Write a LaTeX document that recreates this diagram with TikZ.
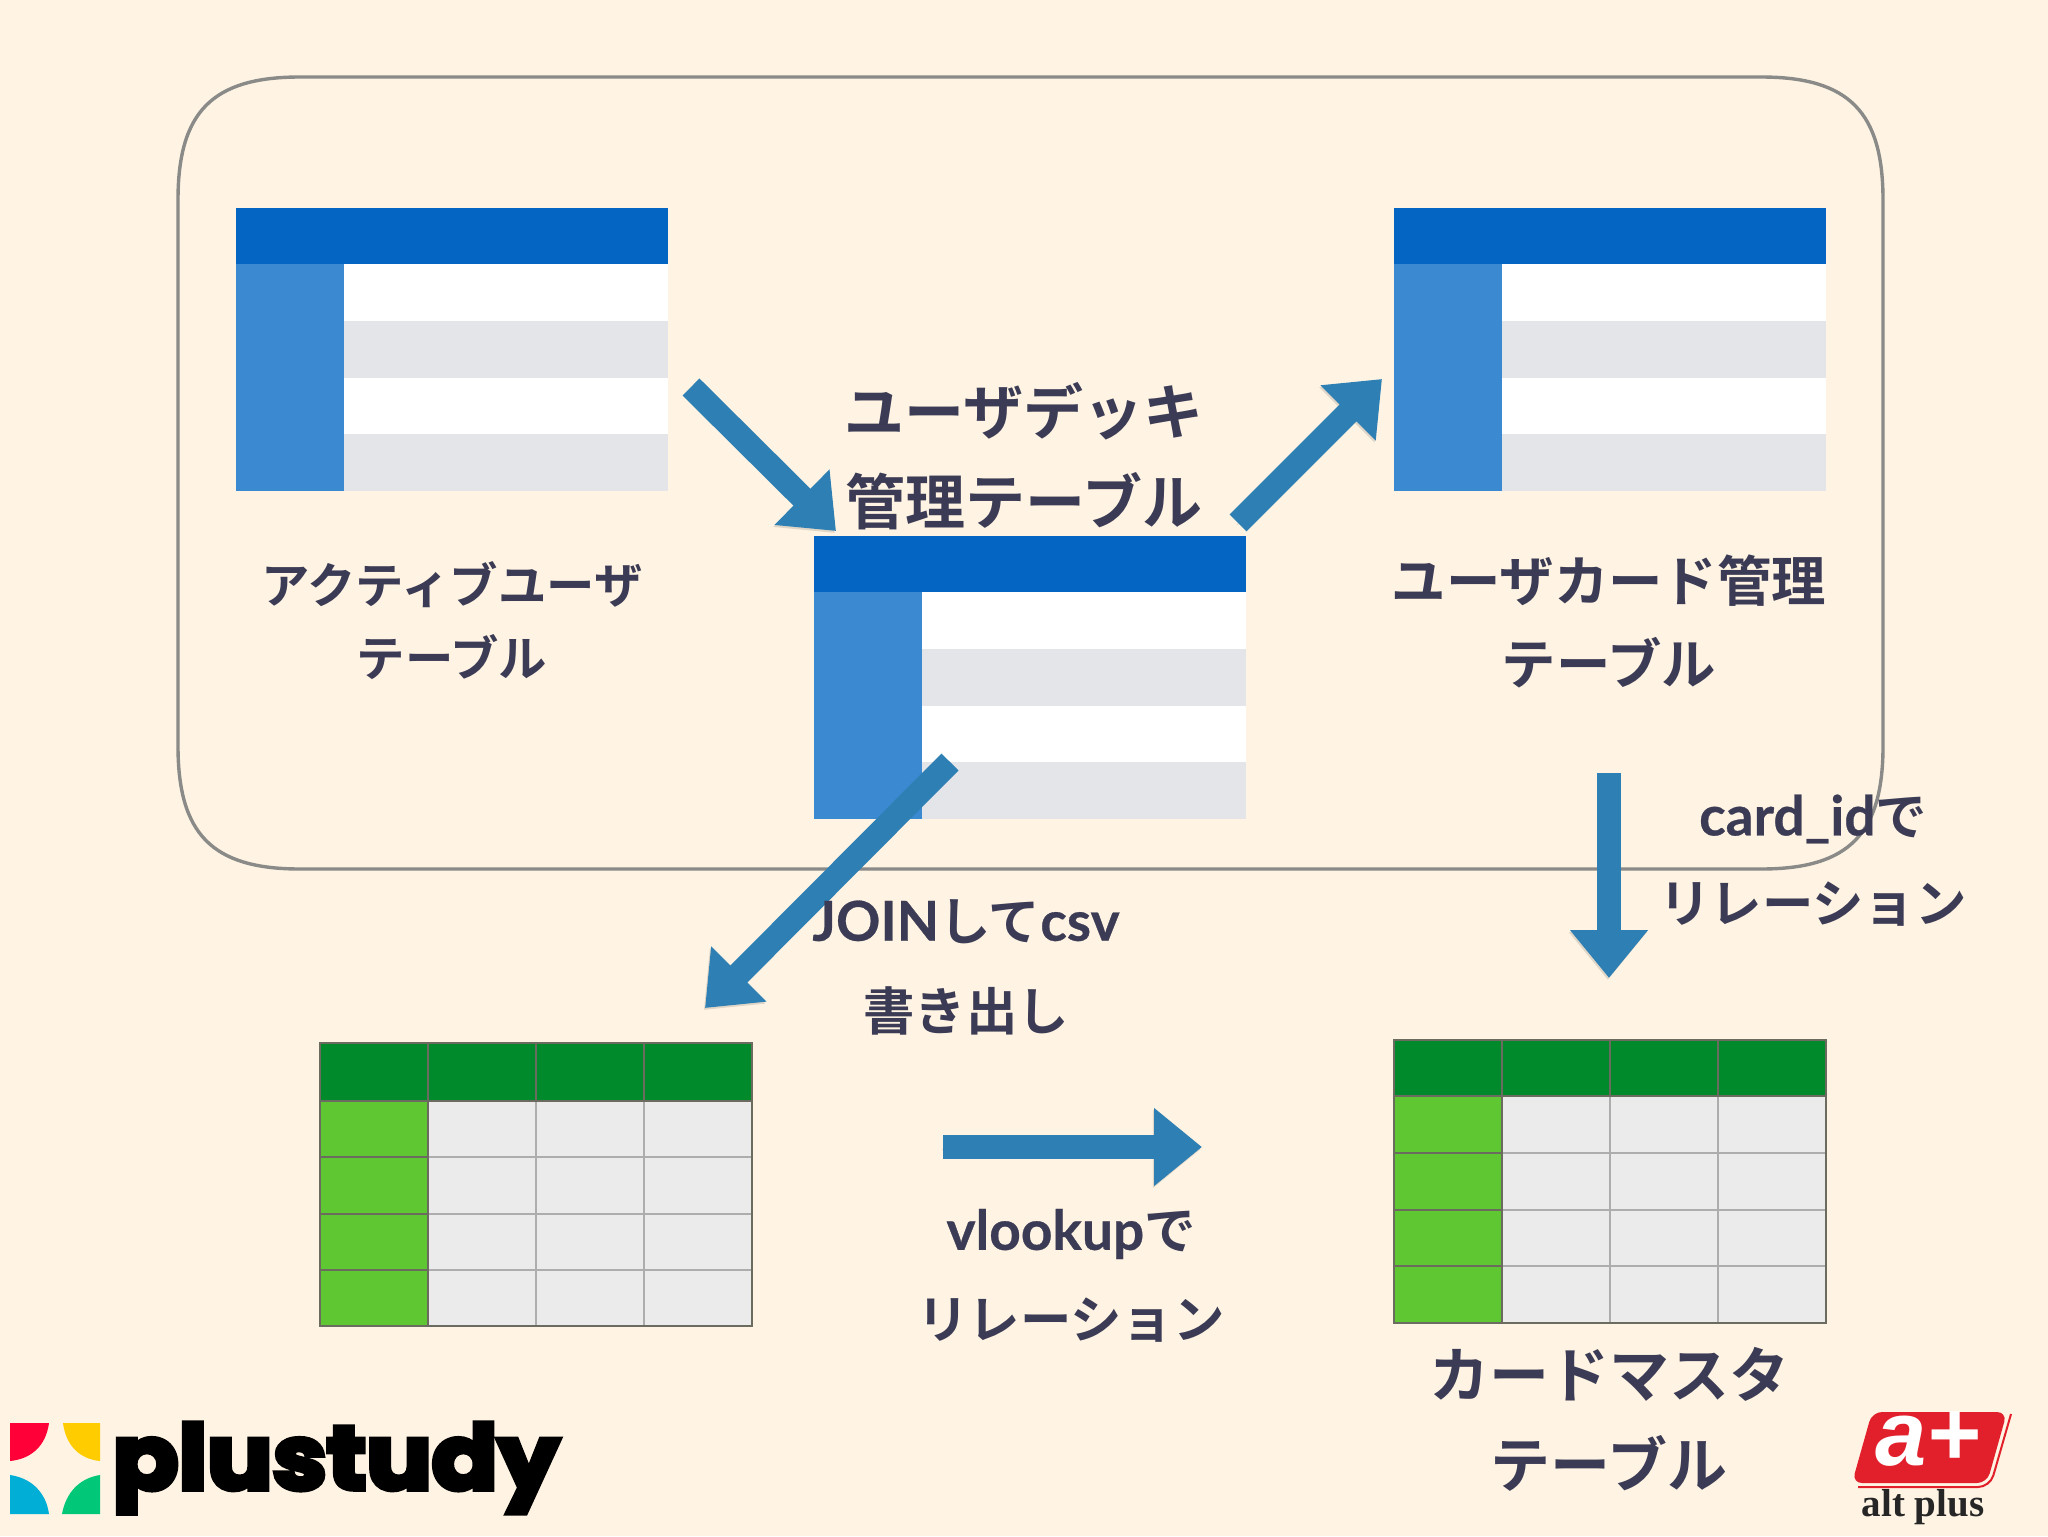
\documentclass[tikz,border=0pt]{standalone}
\usepackage{fontspec}
\usetikzlibrary{arrows.meta}
\newfontfamily\jpfont{Noto Sans CJK JP}[BoldFont=* Bold]
\newfontfamily\latinfont{Lato}[BoldFont=* Bold,BoldFeatures={FakeBold=.5}]
\newfontfamily\logofont{Poppins}[BoldFont=* Bold,BoldFeatures={FakeBold=5.5}]
\newfontfamily\altfont{Liberation Serif}
\newfontfamily\aplusfont{Liberation Sans}
\definecolor{paper}{HTML}{FFF4E3}
\definecolor{frameline}{HTML}{8A8A88}
\definecolor{bluehead}{HTML}{0565C2}
\definecolor{blueside}{HTML}{3B89D0}
\definecolor{bluerow}{HTML}{E4E5E8}
\definecolor{greenhead}{HTML}{008A2B}
\definecolor{greenside}{HTML}{5FC731}
\definecolor{greencell}{HTML}{ECEBEB}
\definecolor{gridline}{HTML}{ADADAD}
\definecolor{outline}{HTML}{6B6B60}
\definecolor{arrowblue}{HTML}{2E7FB4}
\definecolor{labelink}{HTML}{3B3B55}
\definecolor{logored}{HTML}{E2202C}
\definecolor{petalred}{HTML}{FF0038}
\definecolor{petalyellow}{HTML}{FFCC00}
\definecolor{petalblue}{HTML}{00AED6}
\definecolor{petalgreen}{HTML}{00C878}
\newcommand{\latinpart}{\latinfont\bfseries\fontsize{27.5}{27.5}\selectfont}
\tikzset{
  blockarrow/.style={draw=arrowblue,line width=12pt,
    -{Triangle[length=24pt,width=37.5pt]},
    preaction={draw=black,draw opacity=.12,fill opacity=.12,transform canvas={xshift=-.6pt,yshift=-1pt}}},
  labelbig/.style={text=labelink,inner sep=0pt,font=\jpfont\bfseries\fontsize{30}{30}\selectfont},
  labelmid/.style={text=labelink,inner sep=0pt,font=\jpfont\bfseries\fontsize{27.2}{27}\selectfont},
  labelsmall/.style={text=labelink,inner sep=0pt,font=\jpfont\bfseries\fontsize{25.7}{26}\selectfont},
  labeltiny/.style={text=labelink,inner sep=0pt,font=\jpfont\bfseries\fontsize{24.2}{24}\selectfont},
}
% #1 left, #2 top
\newcommand{\bluetable}[2]{
  \begin{scope}[shift={(#1,#2)}]
    \fill[white] (0,56) rectangle (432,283);
    \fill[bluerow] (0,113) rectangle (432,170);
    \fill[bluerow] (0,226) rectangle (432,283);
    \fill[blueside] (0,56) rectangle (108,283);
    \fill[bluehead] (0,0) rectangle (432,56);
  \end{scope}
}
% #3 header height
\newcommand{\greentable}[3]{
  \begin{scope}[shift={(#1,#2)}]
    \fill[greencell] (108,#3) rectangle (432,283);
    \foreach \c in {216,324}
      \draw[gridline,line width=1pt] (\c,#3) -- (\c,283);
    \foreach \r in {1,2,3}
      \draw[gridline,line width=1pt] (108,{#3+(283-#3)*\r/4}) -- (432,{#3+(283-#3)*\r/4});
    \fill[greenside] (0,#3) rectangle (108,283);
    \foreach \r in {1,2,3}
      \draw[outline,line width=1pt] (0,{#3+(283-#3)*\r/4}) -- (108,{#3+(283-#3)*\r/4});
    \fill[greenhead] (0,0) rectangle (432,#3);
    \foreach \c in {108,216,324}
      \draw[outline,line width=1pt] (\c,0) -- (\c,#3);
    \draw[outline,line width=1pt] (0,#3) -- (432,#3);
    \draw[outline,line width=1pt] (108,#3) -- (108,283);
    \draw[outline,line width=1pt] (0,0) rectangle (432,283);
  \end{scope}
}

\begin{document}
\begin{tikzpicture}[x=0.5pt,y=-0.5pt]
    \fill[paper] (0,0) rectangle (2048,1536);
    \useasboundingbox (0,0) rectangle (2048,1536);

    \draw[frameline,line width=1.7pt] (178,200) .. controls (178,112) and (212,77) .. (300,77)
      -- (1761,77) .. controls (1849,77) and (1883,112) .. (1883,200)
      -- (1883,746) .. controls (1883,834) and (1849,869) .. (1761,869)
      -- (300,869) .. controls (212,869) and (178,834) .. (178,746) -- cycle;

    \bluetable{236}{208}
    \bluetable{814}{536}
    \bluetable{1394}{208}
    \greentable{320}{1043}{58}
    \greentable{1394}{1040}{56}

    % arrows
    \coordinate (activeout) at (691,387);
    \coordinate (deckin) at (836,531);
    \coordinate (deckout) at (1238,523);
    \coordinate (cardin) at (1382,379);
    \coordinate (joinout) at (950,762);
    \coordinate (joinin) at (705,1008);
    \coordinate (relout) at (1609,773);
    \coordinate (relin) at (1609,978);
    \coordinate (vlookout) at (943,1147);
    \coordinate (vlookin) at (1202,1147);
    \draw[blockarrow] (activeout) -- (deckin);
    \draw[blockarrow] (deckout) -- (cardin);
    \draw[blockarrow] (joinout) -- (joinin);
    \draw[blockarrow] (relout) -- (relin);
    \draw[blockarrow] (vlookout) -- (vlookin);

    % labels
    \node[labeltiny] (activea) at (452,585) {アクティブユーザ};
    \node[labeltiny] (activeb) at (452,657) {テーブル};
    \node[labelbig] (decka) at (1024,411) {ユーザデッキ};
    \node[labelbig] (deckb) at (1024,501) {管理テーブル};
    \node[labelmid] (carda) at (1609,581) {ユーザカード管理};
    \node[labelmid] (cardb) at (1609,663) {テーブル};
    \node[labelsmall] (joina) at (966,922) {{\latinpart JOIN}して{\latinpart csv}};
    \node[labelsmall] (joinb) at (966,1011) {書き出し};
    \node[labelsmall] (rela) at (1813,819) {{\latinpart card\_id}で};
    \node[labelsmall] (relb) at (1813,904) {リレーション};
    \node[labelsmall] (vlooka) at (1071,1234) {{\latinpart vlookup}で};
    \node[labelsmall] (vlookb) at (1071,1320) {リレーション};
    \node[labelbig] (mastera) at (1609,1374) {カードマスタ};
    \node[labelbig] (masterb) at (1609,1463) {テーブル};

    % plustudy logo
    \fill[petalred] (10,1423) -- (49,1423) .. controls (46,1446) and (31,1459) .. (10,1461) -- cycle;
    \fill[petalyellow] (63,1423) -- (100,1423) -- (100,1461) .. controls (80,1459) and (66,1446) .. (63,1423) -- cycle;
    \fill[petalblue] (10,1475) .. controls (31,1478) and (46,1492) .. (49,1514) -- (10,1514) -- cycle;
    \fill[petalgreen] (100,1475) .. controls (80,1478) and (66,1492) .. (62,1514) -- (100,1514) -- cycle;
    \node[inner sep=0pt,anchor=west,xscale=1.08,font=\logofont\bfseries\fontsize{45}{45}\selectfont] (plustudy) at (112,1468) {plustudy};

    % alt plus logo
    \draw[logored,line width=1pt,rounded corners=6pt] (1858,1487) -- (1990,1487) -- (2011,1414);
    \fill[logored,rounded corners=5pt] (1872,1412) -- (2007,1412) -- (1987,1483) -- (1852,1483) -- cycle;
    \node[inner sep=0pt,text=white,text height=18pt,text depth=0pt,font=\aplusfont\bfseries\itshape\fontsize{46}{46}\selectfont] (aplus) at (1928,1447) {a+};
    \node[inner sep=0pt,text=black!85,font=\altfont\bfseries\fontsize{19.5}{19}\selectfont] (altplus) at (1923,1507) {alt plus};
\end{tikzpicture}
\end{document}
